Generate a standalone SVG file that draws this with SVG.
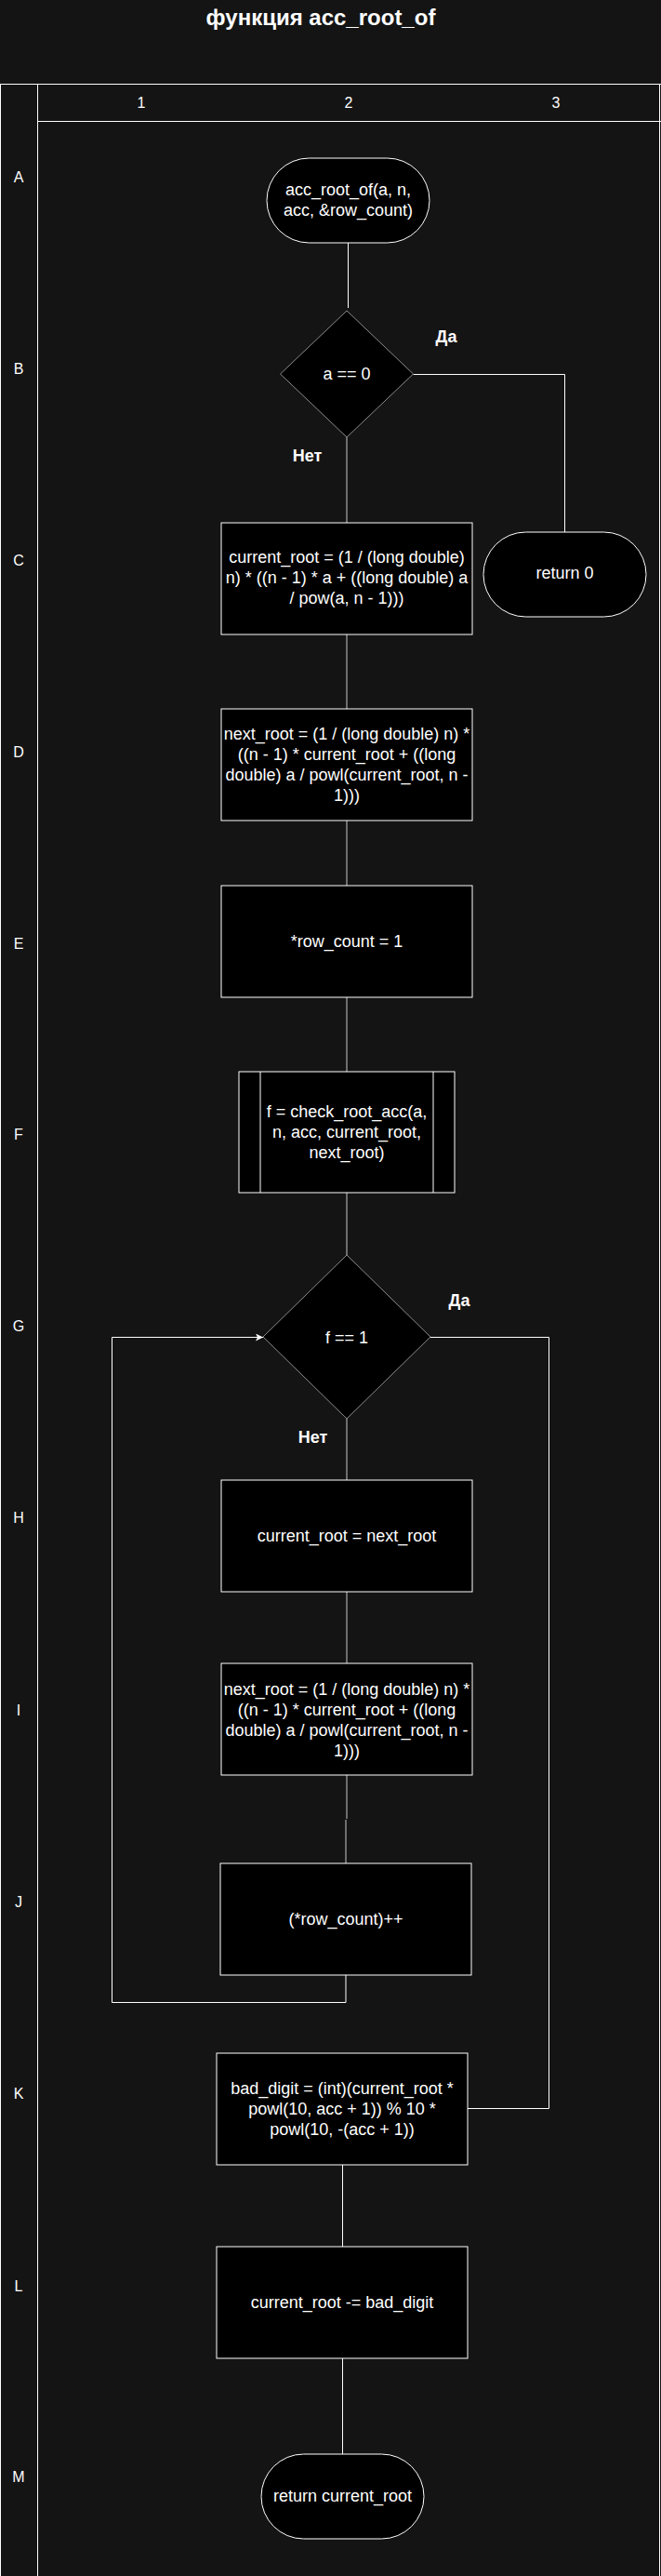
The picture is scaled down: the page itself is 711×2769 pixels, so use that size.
<svg xmlns="http://www.w3.org/2000/svg" width="711" height="2769" viewBox="0 0 711 2769">
<style>
.frame{stroke:#ffffff;stroke-width:1;fill:none}
.hdr{font-family:"Liberation Sans",Arial,sans-serif;font-size:16px;fill:#ffffff;text-anchor:middle}
.box{fill:#000000;stroke:#ffffff;stroke-width:1}
.dia{fill:#000000;stroke:#8c8c8c;stroke-width:1}
.t{font-family:"Liberation Sans",Arial,sans-serif;font-size:18px;fill:#ffffff;text-anchor:middle}
.lbl{font-family:"Liberation Sans",Arial,sans-serif;font-size:18px;font-weight:bold;fill:#ffffff;text-anchor:middle}
.ttl{font-family:"Liberation Sans",Arial,sans-serif;font-size:24px;font-weight:bold;fill:#ffffff;text-anchor:middle}
.c{fill:none;stroke:#ffffff;stroke-width:1}
.cg{fill:none;stroke:#8c8c8c;stroke-width:1.5}
</style>
<defs>
<marker id="arr" markerUnits="userSpaceOnUse" markerWidth="10" markerHeight="10" refX="8" refY="4" orient="auto">
<path d="M0,0 L8,4 L0,8 L2,4 Z" fill="#ffffff"/>
</marker>
</defs>
<rect x="0" y="0" width="711" height="2769" fill="#141414"/>
<g id="title">
<text class="ttl" x="345" y="27">функция acc_root_of</text>
</g>
<g id="frame">
<line class="frame" x1="0" y1="90.5" x2="711" y2="90.5"/>
<line class="frame" x1="0.5" y1="90" x2="0.5" y2="2769"/>
<line class="frame" x1="40.5" y1="90" x2="40.5" y2="2769"/>
<line class="frame" x1="709.5" y1="90" x2="709.5" y2="2769"/>
<line class="frame" x1="40" y1="130.5" x2="711" y2="130.5"/>
<text class="hdr" x="152" y="116">1</text>
<text class="hdr" x="375" y="116">2</text>
<text class="hdr" x="598" y="116">3</text>
<text class="hdr" x="20" y="196">A</text>
<text class="hdr" x="20" y="402">B</text>
<text class="hdr" x="20" y="608">C</text>
<text class="hdr" x="20" y="814">D</text>
<text class="hdr" x="20" y="1020">E</text>
<text class="hdr" x="20" y="1225">F</text>
<text class="hdr" x="20" y="1431">G</text>
<text class="hdr" x="20" y="1637">H</text>
<text class="hdr" x="20" y="1844">I</text>
<text class="hdr" x="20" y="2050">J</text>
<text class="hdr" x="20" y="2256">K</text>
<text class="hdr" x="20" y="2463">L</text>
<text class="hdr" x="20" y="2668">M</text>
</g>
<g id="connectors">
<path class="c" d="M374.5 261 V331"/>
<path class="cg" d="M373 470 V562"/>
<path class="c" d="M444.5 402.5 H607.5 V572"/>
<path class="cg" d="M373 682 V762"/>
<path class="cg" d="M373 882 V952"/>
<path class="cg" d="M373 1072 V1152"/>
<path class="cg" d="M373 1282 V1349"/>
<path class="cg" d="M373 1525 V1591"/>
<path class="cg" d="M373 1711 V1788"/>
<path class="cg" d="M373 1908 V1955 M372 1956 V2003"/>
<path class="c" d="M372 2123 V2152.5 H120.5 V1437.5 H283" marker-end="url(#arr)"/>
<path class="c" d="M463 1437.5 H590.5 V2266.5 H503"/>
<path class="c" d="M368.5 2327 V2415"/>
<path class="c" d="M368.5 2535 V2638"/>
<text class="lbl" x="480" y="368">Да</text>
<text class="lbl" x="330.5" y="496">Нет</text>
<text class="lbl" x="494" y="1404">Да</text>
<text class="lbl" x="336.5" y="1551">Нет</text>
</g>
<g id="A">
<rect class="box" x="287" y="170" width="175" height="91" rx="45.5" ry="45.5" stroke-width="1.5"/>
<text class="t" x="374.5" y="210">acc_root_of(a, n,</text>
<text class="t" x="374.5" y="232">acc, &amp;row_count)</text>
</g>
<g id="B">
<polygon class="dia" points="373,334 444.5,402 373,470 301.5,402"/>
<text class="t" x="373" y="408">a == 0</text>
</g>
<g id="B3">
<rect class="box" x="520" y="572" width="175" height="91" rx="45.5" ry="45.5" stroke-width="1.5"/>
<text class="t" x="607.5" y="622">return 0</text>
</g>
<g id="C">
<rect class="box" x="238" y="562" width="270" height="120"/>
<text class="t" x="373" y="605">current_root = (1 / (long double)</text>
<text class="t" x="373" y="627">n) * ((n - 1) * a + ((long double) a</text>
<text class="t" x="373" y="649">/ pow(a, n - 1)))</text>
</g>
<g id="D">
<rect class="box" x="238" y="762" width="270" height="120"/>
<text class="t" x="373" y="795">next_root = (1 / (long double) n) *</text>
<text class="t" x="373" y="817">((n - 1) * current_root + ((long</text>
<text class="t" x="373" y="839">double) a / powl(current_root, n -</text>
<text class="t" x="373" y="861">1)))</text>
</g>
<g id="E">
<rect class="box" x="238" y="952" width="270" height="120"/>
<text class="t" x="373" y="1018">*row_count = 1</text>
</g>
<g id="F">
<rect class="box" x="257" y="1152" width="232" height="130"/>
<line class="box" x1="280" y1="1152" x2="280" y2="1282"/>
<line class="box" x1="466" y1="1152" x2="466" y2="1282"/>
<text class="t" x="373" y="1200.5">f = check_root_acc(a,</text>
<text class="t" x="373" y="1222.5">n, acc, current_root,</text>
<text class="t" x="373" y="1244.5">next_root)</text>
</g>
<g id="G">
<polygon class="dia" points="373,1349 463,1437 373,1525 283,1437"/>
<text class="t" x="373" y="1444">f == 1</text>
</g>
<g id="H">
<rect class="box" x="238" y="1591" width="270" height="120"/>
<text class="t" x="373" y="1657">current_root = next_root</text>
</g>
<g id="I">
<rect class="box" x="238" y="1788" width="270" height="120"/>
<text class="t" x="373" y="1821.5">next_root = (1 / (long double) n) *</text>
<text class="t" x="373" y="1843.5">((n - 1) * current_root + ((long</text>
<text class="t" x="373" y="1865.5">double) a / powl(current_root, n -</text>
<text class="t" x="373" y="1887.5">1)))</text>
</g>
<g id="J">
<rect class="box" x="237" y="2003" width="270" height="120"/>
<text class="t" x="372" y="2069">(*row_count)++</text>
</g>
<g id="K">
<rect class="box" x="233" y="2207" width="270" height="120"/>
<text class="t" x="368" y="2251">bad_digit = (int)(current_root *</text>
<text class="t" x="368" y="2273">powl(10, acc + 1)) % 10 *</text>
<text class="t" x="368" y="2295">powl(10, -(acc + 1))</text>
</g>
<g id="L">
<rect class="box" x="233" y="2415" width="270" height="120"/>
<text class="t" x="368" y="2481">current_root -= bad_digit</text>
</g>
<g id="M">
<rect class="box" x="281" y="2638" width="175" height="91" rx="45.5" ry="45.5" stroke-width="1.5"/>
<text class="t" x="368.5" y="2689">return current_root</text>
</g>
</svg>
